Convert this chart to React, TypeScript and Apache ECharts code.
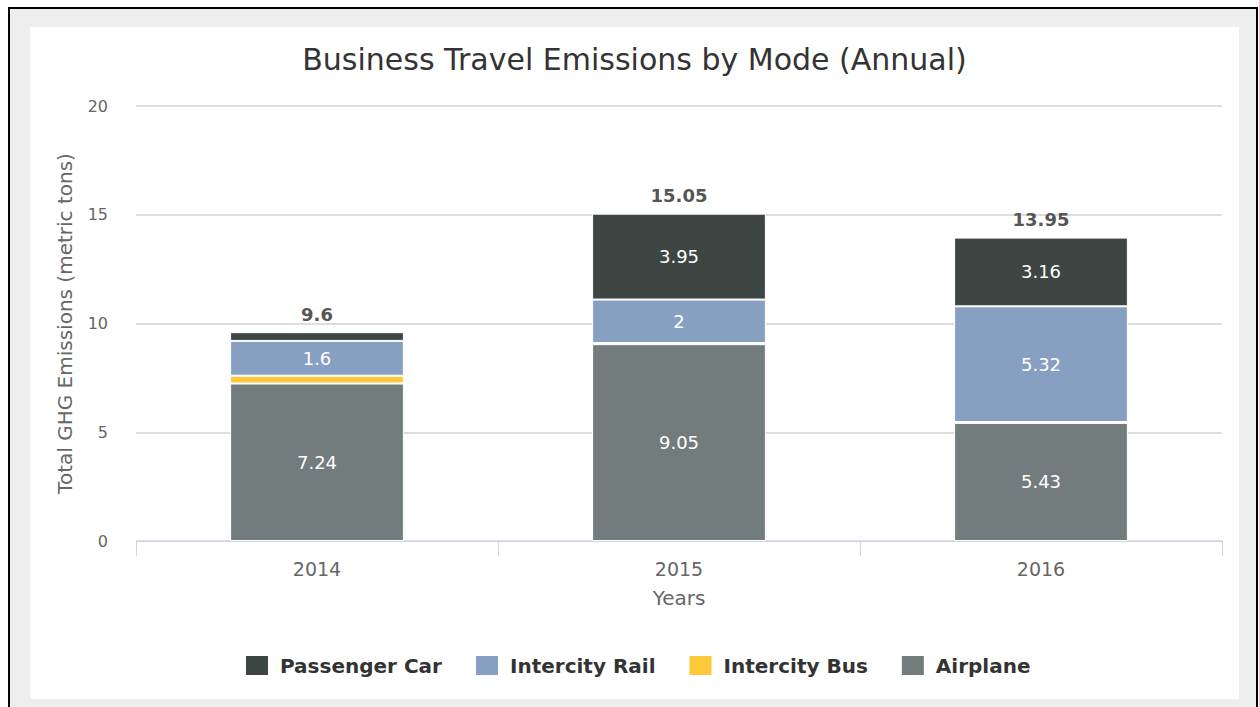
import React, { useEffect, useRef } from "react";
import * as echarts from "echarts";

const categories = ["2014", "2015", "2016"];
const airplane = [7.24, 9.05, 5.43];
const intercityBus = [0.36, 0.05, 0.04];
const intercityRail = [1.6, 2, 5.32];
const passengerCar = [0.4, 3.95, 3.16];
const totals = [9.6, 15.05, 13.95];
const yTicks = { min: 0, max: 20, interval: 5 };

const colors = {
  car: "#3e4644",
  rail: "#87a0c2",
  bus: "#fdc93a",
  airplane: "#737c7c",
};

const FONT = "DejaVu Sans, Verdana, sans-serif";

export default function App() {
  const ref = useRef<HTMLDivElement>(null);
  useEffect(() => {
    if (!ref.current) return;
    const chart = echarts.init(ref.current, undefined, { renderer: "svg" });
    const inside = {
      show: true,
      position: "inside",
      color: "#ffffff",
      fontFamily: FONT,
      fontSize: 18,
      formatter: (p: any) => (p.value >= 1 ? String(p.value) : ""),
    };
    const common = {
      type: "bar",
      stack: "total",
      barWidth: "48%",
      itemStyle: { borderColor: "#ffffff", borderWidth: 1 },
      emphasis: { disabled: true },
    };
    chart.setOption({
      animation: false,
      backgroundColor: "#ffffff",
      textStyle: { fontFamily: FONT },
      title: {
        text: "Business Travel Emissions by Mode (Annual)",
        left: "center",
        top: 12,
        textStyle: { fontFamily: FONT, fontSize: 30, fontWeight: "normal", color: "#333333" },
      },
      grid: { left: 106, right: 17, top: 79, bottom: 158 },
      legend: {
        data: ["Passenger Car", "Intercity Rail", "Intercity Bus", "Airplane"],
        bottom: 17,
        left: 209,
        icon: "rect",
        itemWidth: 24,
        itemHeight: 21,
        itemGap: 32,
        textStyle: {
          fontFamily: FONT,
          fontSize: 20,
          fontWeight: "bold",
          color: "#333333",
          padding: [0, 0, 0, 6],
        },
      },
      xAxis: {
        type: "category",
        data: categories,
        name: "Years",
        nameLocation: "middle",
        nameGap: 47,
        nameTextStyle: { fontFamily: FONT, fontSize: 20, color: "#666666" },
        axisLine: { lineStyle: { color: "#ccd6eb", width: 1 } },
        axisTick: { show: true, length: 15, lineStyle: { color: "#ccd6eb" } },
        axisLabel: { fontFamily: FONT, fontSize: 19, color: "#666666", margin: 18 },
      },
      yAxis: {
        type: "value",
        min: yTicks.min,
        max: yTicks.max,
        interval: yTicks.interval,
        name: "Total GHG Emissions (metric tons)",
        nameLocation: "middle",
        nameGap: 61,
        nameRotate: 90,
        nameTextStyle: { fontFamily: FONT, fontSize: 20, color: "#666666" },
        axisLine: { show: false },
        axisTick: { show: false },
        axisLabel: { fontFamily: FONT, fontSize: 16, color: "#666666", margin: 28 },
        splitLine: { lineStyle: { color: "#dddddd", width: 2 } },
      },
      series: [
        { ...common, name: "Airplane", data: airplane, itemStyle: { ...common.itemStyle, color: colors.airplane }, label: inside },
        { ...common, name: "Intercity Bus", data: intercityBus, itemStyle: { ...common.itemStyle, color: colors.bus }, label: { show: false } },
        { ...common, name: "Intercity Rail", data: intercityRail, itemStyle: { ...common.itemStyle, color: colors.rail }, label: inside },
        { ...common, name: "Passenger Car", data: passengerCar, itemStyle: { ...common.itemStyle, color: colors.car }, label: inside },
        {
          type: "bar",
          stack: "total",
          name: "Total",
          barWidth: "48%",
          data: totals.map(() => 0),
          itemStyle: { color: "transparent", borderWidth: 0 },
          emphasis: { disabled: true },
          tooltip: { show: false },
          label: {
            show: true,
            position: "top",
            distance: 9,
            fontFamily: FONT,
            fontSize: 18,
            fontWeight: "bold",
            color: "#555555",
            formatter: (p: any) => String(totals[p.dataIndex]),
          },
        },
      ],
    });
    return () => chart.dispose();
  }, []);
  return (
    <div style={{ position: "absolute", left: 0, top: 0, width: 1259, height: 707, background: "#ffffff", overflow: "hidden" }}>
      <div
        style={{
          position: "absolute",
          left: 8,
          top: 7,
          width: 1246,
          height: 720,
          border: "2px solid #000000",
          background: "#eeeeee",
        }}
      />
      <div ref={ref} style={{ position: "absolute", left: 30, top: 27, width: 1209, height: 672 }} />
    </div>
  );
}
